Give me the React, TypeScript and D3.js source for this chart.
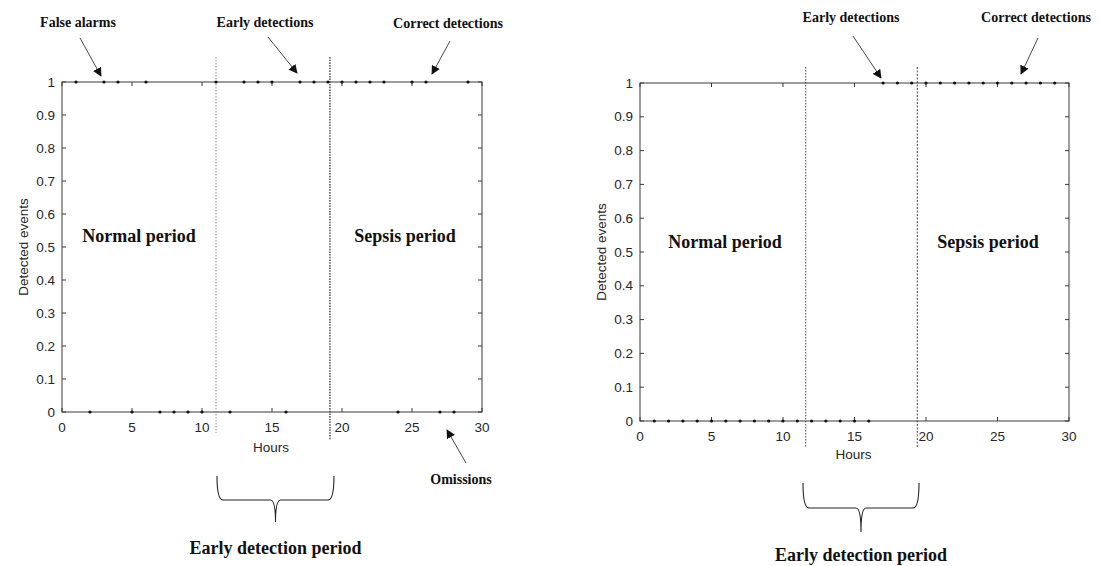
import React from "react";
import * as d3 from "d3";

const hours = [1, 2, 3, 4, 5, 6, 7, 8, 9, 10, 11, 12, 13, 14, 15, 16, 17, 18, 19, 20, 21, 22, 23, 24, 25, 26, 27, 28, 29];
const leftDetected = [1, 0, 1, 1, 0, 1, 0, 0, 0, 0, 1, 0, 1, 1, 1, 0, 1, 1, 1, 1, 1, 1, 1, 0, 1, 1, 0, 0, 1];
const rightDetected = [0, 0, 0, 0, 0, 0, 0, 0, 0, 0, 0, 0, 0, 0, 0, 0, 1, 1, 1, 1, 1, 1, 1, 1, 1, 1, 1, 1, 1];
const xTicks = [0, 5, 10, 15, 20, 25, 30];
const yTicks = [0, 0.1, 0.2, 0.3, 0.4, 0.5, 0.6, 0.7, 0.8, 0.9, 1];
const leftMarkers = [11, 19.14];
const rightMarkers = [11.59, 19.39];
const periodLabels = ["Normal period", "Sepsis period"];

type Ann = { text: string; tx: number; ty: number; x1: number; y1: number; x2: number; y2: number };

const leftAnns: Ann[] = [
  { text: "False alarms", tx: 78, ty: 27, x1: 80, y1: 38, x2: 101, y2: 76 },
  { text: "Early detections", tx: 265, ty: 27, x1: 268, y1: 37, x2: 297, y2: 73 },
  { text: "Correct detections", tx: 448, ty: 28, x1: 450, y1: 41, x2: 432, y2: 74 },
  { text: "Omissions", tx: 461, ty: 484, x1: 466, y1: 463, x2: 447, y2: 430 },
];
const rightAnns: Ann[] = [
  { text: "Early detections", tx: 851, ty: 22, x1: 853, y1: 36, x2: 881, y2: 78 },
  { text: "Correct detections", tx: 1036, ty: 22, x1: 1038, y1: 38, x2: 1021, y2: 74 },
];

const AX = "#3a3a3a";
const LBL = "#262626";
const SANS = "Liberation Sans, Arial, sans-serif";
const SERIF = "Liberation Serif, Times New Roman, serif";

function Panel(props: {
  x0: number; x1: number; y0: number; y1: number;
  data: number[]; markers: number[]; markerTop: number; markerBottoms: number[];
  markerStyles: { w: number; c: string; dash: string }[];
  labelX: number; hoursY: number; periodY: number; periodXs: number[];
  brace: { xl: number; xr: number; top: number; mid: number; tip: number; textY: number };
  anns: Ann[];
}) {
  const { x0, x1, y0, y1 } = props;
  const x = d3.scaleLinear().domain([0, 30]).range([x0, x1]);
  const y = d3.scaleLinear().domain([0, 1]).range([y0, y1]);
  const tl = 4;
  const b = props.brace;
  const cx = (b.xl + b.xr) / 2;
  const bracePath = `M${b.xl},${b.top} Q${b.xl},${b.mid} ${b.xl + 6},${b.mid} L${cx - 5},${b.mid} Q${cx},${b.mid} ${cx},${b.tip} Q${cx},${b.mid} ${cx + 5},${b.mid} L${b.xr - 6},${b.mid} Q${b.xr},${b.mid} ${b.xr},${b.top}`;
  return (
    <g>
      <rect x={x0} y={y1} width={x1 - x0} height={y0 - y1} fill="white" stroke={AX} strokeWidth={1} />
      {xTicks.map((t) => (
        <g key={"xt" + t}>
          <line x1={x(t)} x2={x(t)} y1={y0} y2={y0 - tl} stroke={AX} />
          <line x1={x(t)} x2={x(t)} y1={y1} y2={y1 + tl} stroke={AX} />
          <text x={x(t)} y={y0 + 20} textAnchor="middle" fontFamily={SANS} fontSize={13.5} fill={LBL}>{t}</text>
        </g>
      ))}
      {yTicks.map((t) => (
        <g key={"yt" + t}>
          <line x1={x0} x2={x0 + tl} y1={y(t)} y2={y(t)} stroke={AX} />
          <line x1={x1} x2={x1 - tl} y1={y(t)} y2={y(t)} stroke={AX} />
          <text x={x0 - 7} y={y(t) + 4.5} textAnchor="end" fontFamily={SANS} fontSize={13.5} fill={LBL}>{d3.format("")(+t.toFixed(1))}</text>
        </g>
      ))}
      {props.markers.map((m, i) => (
        <line key={"m" + i} x1={x(m)} x2={x(m)} y1={props.markerTop} y2={props.markerBottoms[i]}
          stroke={props.markerStyles[i].c} strokeWidth={props.markerStyles[i].w} strokeDasharray={props.markerStyles[i].dash} />
      ))}
      {hours.map((h, i) => (
        <circle key={"p" + h} cx={x(h)} cy={y(props.data[i])} r={1.6} fill="#111" />
      ))}
      <text transform={`translate(${props.labelX},${(y0 + y1) / 2}) rotate(-90)`} textAnchor="middle" fontFamily={SANS} fontSize={13.5} fill={LBL}>Detected events</text>
      <text x={(x0 + x1) / 2 - 1} y={props.hoursY} textAnchor="middle" fontFamily={SANS} fontSize={13.5} fill={LBL}>Hours</text>
      {periodLabels.map((p, i) => (
        <text key={p} x={props.periodXs[i]} y={props.periodY} textAnchor="middle" fontFamily={SERIF} fontWeight="bold" fontSize={18} fill="#111">{p}</text>
      ))}
      <path d={bracePath} fill="none" stroke="#222" strokeWidth={1.1} />
      <text x={cx} y={b.textY} textAnchor="middle" fontFamily={SERIF} fontWeight="bold" fontSize={18} fill="#111">Early detection period</text>
      {props.anns.map((a) => (
        <g key={a.text}>
          <text x={a.tx} y={a.ty} textAnchor="middle" fontFamily={SERIF} fontWeight="bold" fontSize={14} fill="#111">{a.text}</text>
          <line x1={a.x1} y1={a.y1} x2={a.x2} y2={a.y2} stroke="#333" strokeWidth={0.9} markerEnd="url(#arrow)" />
        </g>
      ))}
    </g>
  );
}

export default function App() {
  return (
    <svg width={1100} height={566} style={{ position: "absolute", left: 0, top: 0, background: "white" }}>
      <defs>
        <marker id="arrow" viewBox="0 0 10 10" refX={9} refY={5} markerWidth={9} markerHeight={9} markerUnits="userSpaceOnUse" orient="auto">
          <path d="M0,0 L10,5 L0,10 z" fill="#111" />
        </marker>
      </defs>
      <Panel x0={62} x1={482} y0={412} y1={82} data={leftDetected} markers={leftMarkers}
        markerTop={57} markerBottoms={[433, 440]}
        markerStyles={[{ w: 0.8, c: "#777", dash: "1.5,1.5" }, { w: 1.4, c: "#444", dash: "1.5,1.2" }]}
        labelX={28} hoursY={452} periodY={242} periodXs={[139, 405]}
        brace={{ xl: 217, xr: 334, top: 476, mid: 500, tip: 522, textY: 554 }}
        anns={leftAnns} />
      <Panel x0={640} x1={1069} y0={421} y1={83} data={rightDetected} markers={rightMarkers}
        markerTop={67} markerBottoms={[448, 448]}
        markerStyles={[{ w: 0.9, c: "#333", dash: "1.5,1.5" }, { w: 0.9, c: "#333", dash: "2,1.5" }]}
        labelX={606} hoursY={459} periodY={248} periodXs={[725, 988]}
        brace={{ xl: 803, xr: 919, top: 483, mid: 508, tip: 532, textY: 561 }}
        anns={rightAnns} />
    </svg>
  );
}
